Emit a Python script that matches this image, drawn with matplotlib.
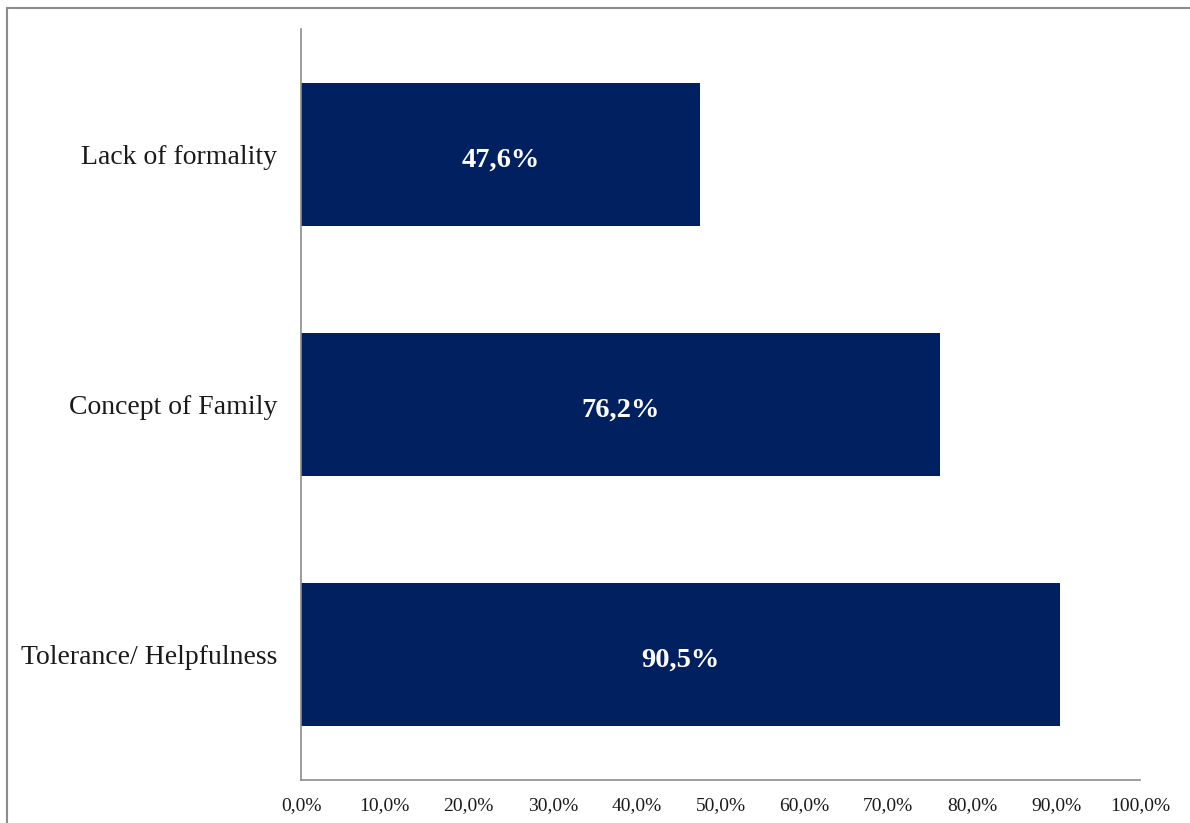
import matplotlib
matplotlib.use("Agg")
import matplotlib.pyplot as plt
from matplotlib.patches import Rectangle

categories = ["Tolerance/ Helpfulness", "Concept of Family", "Lack of formality"]
values = [90.5, 76.2, 47.6]
xticks = [0, 10, 20, 30, 40, 50, 60, 70, 80, 90, 100]

plt.rcParams["font.family"] = ["Liberation Serif", "DejaVu Serif"]

fig = plt.figure(figsize=(11.9, 8.23), dpi=100)
ax = fig.add_axes([301 / 1190, 1 - 780 / 823, 839 / 1190, 751 / 823])

pos = list(range(len(categories)))
ax.barh(pos, values, height=0.57, color="#002060")
for p, v in zip(pos, values):
    ax.annotate(f"{v:.1f}%".replace(".", ","), (v / 2, p), xytext=(0, -4),
                textcoords="offset points", ha="center", va="center",
                color="white", fontsize=20.5, fontweight="bold")

ax.set_xlim(0, 100)
ax.set_ylim(-0.5, len(categories) - 0.5)
ax.set_yticks(pos)
ax.set_yticklabels(categories, fontsize=20, color="#1a1a1a")
ax.set_xticks(xticks)
ax.set_xticklabels([f"{t:.1f}%".replace(".", ",") for t in xticks], fontsize=14, color="#1a1a1a")
ax.tick_params(axis="both", length=0)
ax.tick_params(axis="y", pad=17)
ax.tick_params(axis="x", pad=12)
for s in ("top", "right"):
    ax.spines[s].set_visible(False)
for s in ("left", "bottom"):
    ax.spines[s].set_color("#8c8c8c")
    ax.spines[s].set_linewidth(1.2)

# outer chart border
fig.patches.append(Rectangle((7 / 1190, -0.1), 1.2, 1 - 8 / 823 + 0.1,
                             transform=fig.transFigure, fill=False,
                             edgecolor="#8c8c8c", linewidth=1.5))

fig.savefig("out.png", dpi=100)
